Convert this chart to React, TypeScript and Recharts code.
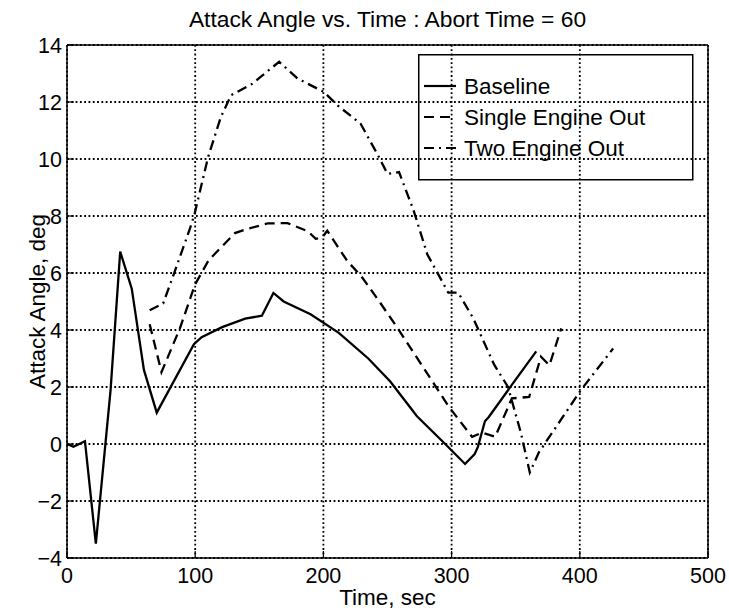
import React from "react";
import {
  LineChart,
  Line,
  XAxis,
  YAxis,
  CartesianGrid,
  ReferenceLine,
  Legend,
} from "recharts";

// time (sec) and attack angle (deg) per case
const baselineTime = [0, 5, 14, 22.5, 34, 41.5, 50.5, 60, 70, 99, 105, 121, 139, 152, 161, 169, 190, 212, 235, 252, 270, 273, 295, 310.5, 318, 320.5, 326, 329, 345, 366];
const baselineAngle = [0, -0.1, 0.1, -3.5, 1.9, 6.75, 5.45, 2.6, 1.1, 3.5, 3.75, 4.1, 4.4, 4.5, 5.3, 5.0, 4.55, 3.9, 3.0, 2.2, 1.15, 0.97, 0.0, -0.7, -0.35, -0.1, 0.8, 0.95, 1.95, 3.25];

const singleTime = [64.5, 73.7, 88, 99.9, 110.5, 131, 141, 156.5, 172, 188, 194, 199, 203, 218.5, 230, 243, 259, 298, 316, 324, 334, 347, 360.5, 369.7, 376.3, 385.5];
const singleAngle = [4.2, 2.52, 4.05, 5.6, 6.45, 7.4, 7.55, 7.74, 7.75, 7.46, 7.2, 7.25, 7.48, 6.43, 5.86, 5.04, 3.99, 1.3, 0.25, 0.4, 0.25, 1.6, 1.65, 3.06, 2.76, 4.06];

const twoTime = [64.5, 75, 84, 96, 99.5, 110, 120, 128, 145, 151, 165.5, 180, 200.5, 211, 229, 242, 250, 259, 270.4, 281, 297.4, 305.2, 317, 333, 344, 354, 361, 368, 401, 426];
const twoAngle = [4.69, 4.93, 6.05, 7.57, 8.07, 10.06, 11.47, 12.24, 12.65, 12.88, 13.41, 12.82, 12.35, 11.88, 11.24, 10.18, 9.48, 9.54, 8.19, 6.66, 5.31, 5.31, 4.4, 2.8, 2.0, 0.4, -1.0, -0.3, 1.9, 3.35];

const xTicks = [0, 100, 200, 300, 400, 500];
const yTicks = [-4, -2, 0, 2, 4, 6, 8, 10, 12, 14];

const toRows = (t: number[], a: number[]) => t.map((x, i) => ({ t: x, a: a[i] }));

const series = [
  { name: "Baseline", data: toRows(baselineTime, baselineAngle), dash: undefined },
  { name: "Single Engine Out", data: toRows(singleTime, singleAngle), dash: "10 6" },
  { name: "Two Engine Out", data: toRows(twoTime, twoAngle), dash: "10 5 2 5" },
];

const FONT = "'Liberation Sans', Arial, Helvetica, sans-serif";
const X_MAX = xTicks[xTicks.length - 1];
const Y_MAX = yTicks[yTicks.length - 1];

const fmtY = (v: number) => (v < 0 ? `\u2212${Math.abs(v)}` : `${v}`);

function LegendBox() {
  return (
    <svg width={276} height={127} style={{ display: "block" }}>
      <rect x={0.75} y={0.75} width={274} height={125} fill="none" stroke="#000" strokeWidth={1.5} />
      {series.map((s, i) => {
        const cy = 32 + i * 31;
        return (
          <g key={s.name}>
            <line x1={6} x2={38} y1={cy} y2={cy} stroke="#000" strokeWidth={2.2} strokeDasharray={s.dash} />
            <text x={46} y={cy + 8} fontSize={22.5} fill="#000" fontFamily={FONT}>
              {s.name}
            </text>
          </g>
        );
      })}
    </svg>
  );
}

export default function App() {
  return (
    <div style={{ position: "absolute", left: 0, top: 0, fontFamily: FONT, background: "#fff" }}>
      <LineChart width={729} height={615} margin={{ top: 45, right: 21, bottom: 0, left: 7 }}>
        <CartesianGrid stroke="#000" strokeWidth={1.8} strokeDasharray="1.8 2.5" />
        <XAxis
          dataKey="t"
          type="number"
          domain={[0, X_MAX]}
          ticks={xTicks}
          height={57}
          tickSize={-7}
          tickMargin={17}
          axisLine={{ stroke: "#000", strokeWidth: 1.5 }}
          tickLine={{ stroke: "#000", strokeWidth: 1.2 }}
          tick={{ fill: "#000", fontSize: 21.5 }}
          label={{ value: "Time, sec", position: "insideBottom", offset: 10, fill: "#000", fontSize: 22.5 }}
        />
        <YAxis
          type="number"
          domain={[yTicks[0], Y_MAX]}
          ticks={yTicks}
          width={60}
          tickSize={-7}
          tickMargin={12}
          tickFormatter={fmtY}
          axisLine={{ stroke: "#000", strokeWidth: 1.5 }}
          tickLine={{ stroke: "#000", strokeWidth: 1.2 }}
          tick={{ fill: "#000", fontSize: 21.5 }}
          label={{ value: "Attack Angle, deg", angle: -90, position: "center", dx: 0, fill: "#000", fontSize: 22.5 }}
        />
        <ReferenceLine
          y={Y_MAX}
          stroke="#000"
          strokeWidth={1.5}
          label={{ value: "Attack Angle vs. Time : Abort Time = 60", position: "top", offset: 18, fill: "#000", fontSize: 22.8 }}
        />
        <ReferenceLine x={X_MAX} stroke="#000" strokeWidth={1.5} />
        <Legend
          layout="vertical"
          align="center"
          verticalAlign="middle"
          content={() => <LegendBox />}
          wrapperStyle={{ left: 418, top: 54, width: 276, height: 127, right: "auto", bottom: "auto" }}
        />
        {series.map((s) => (
          <Line
            key={s.name}
            name={s.name}
            data={s.data}
            dataKey="a"
            type="linear"
            stroke="#000"
            strokeWidth={2.3}
            strokeDasharray={s.dash}
            dot={false}
            activeDot={false}
            isAnimationActive={false}
          />
        ))}
      </LineChart>
    </div>
  );
}
